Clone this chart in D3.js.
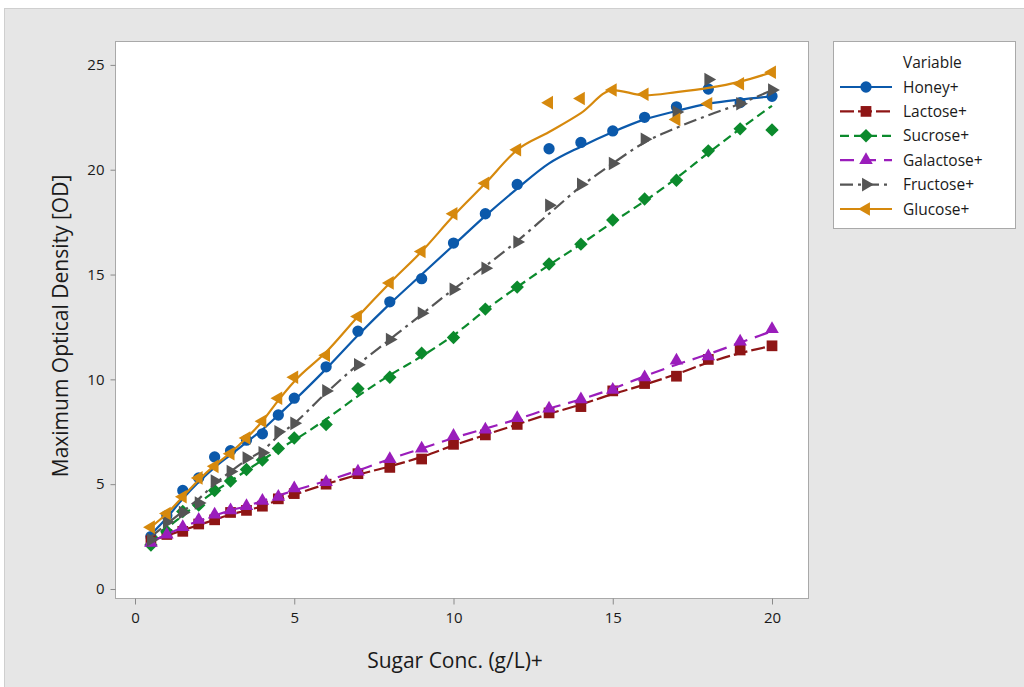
<!DOCTYPE html>
<html>
<head>
<meta charset="utf-8">
<script src="https://cdn.jsdelivr.net/npm/d3@7"></script>
<style>
  html, body { margin: 0; padding: 0; background: #ffffff; }
  svg { display: block; }
  text { font-family: "Open Sans", "Noto Sans", sans-serif; fill: #1a1a1a; }
</style>
</head>
<body>
<svg id="chart" width="1024" height="687"></svg>
<script>
// ---- data ----
const sugarConc = [0.5,1,1.5,2,2.5,3,3.5,4,4.5,5,6,7,8,9,10,11,12,13,14,15,16,17,18,19,20];
const xTicks = [0,5,10,15,20];
const yTicks = [0,5,10,15,20,25];
const seriesNames = ["Honey+","Lactose+","Sucrose+","Galactose+","Fructose+","Glucose+"];

const honey     = [2.5,3.5,4.7,5.3,6.3,6.6,7.1,7.4,8.3,9.1,10.6,12.3,13.7,14.8,16.5,17.9,19.3,21.0,21.3,21.85,22.5,23.0,23.85,23.2,23.5];
const lactose   = [2.3,2.6,2.75,3.1,3.3,3.65,3.75,3.95,4.3,4.55,5.0,5.5,5.8,6.2,6.9,7.35,7.85,8.4,8.7,9.45,9.8,10.15,10.95,11.4,11.6];
const sucrose   = [2.1,2.75,3.7,4.0,4.7,5.15,5.7,6.15,6.7,7.2,7.85,9.55,10.1,11.25,12.0,13.35,14.4,15.5,16.45,17.6,18.6,19.5,20.9,21.95,21.9];
const galactose = [2.2,2.6,2.95,3.3,3.55,3.75,3.95,4.2,4.4,4.8,5.1,5.6,6.2,6.7,7.3,7.6,8.15,8.6,9.05,9.5,10.1,10.9,11.1,11.8,12.4];
const fructose  = [2.35,3.2,3.65,4.1,5.15,5.6,6.25,6.5,7.5,7.9,9.45,10.7,11.9,13.15,14.3,15.3,16.55,18.3,19.3,20.3,21.45,22.75,24.3,23.15,23.8];
const glucose   = [2.95,3.6,4.4,5.3,5.85,6.45,7.2,8.0,9.1,10.1,11.15,13.0,14.6,16.1,17.9,19.35,20.95,23.2,23.4,23.8,23.6,22.4,23.15,24.1,24.65];

// smoothed connect lines (as drawn in the reference)
const honeyFit     = [2.6,3.4,4.3,5.1,5.8,6.4,7.0,7.6,8.3,9.0,10.5,12.1,13.6,15.0,16.4,17.8,19.1,20.3,21.1,21.8,22.4,22.8,23.15,23.35,23.5];
const lactoseFit   = [2.3,2.55,2.8,3.05,3.3,3.55,3.75,3.95,4.25,4.5,5.0,5.45,5.85,6.3,6.85,7.35,7.85,8.35,8.8,9.3,9.75,10.25,10.8,11.25,11.6];
const sucroseFit   = [2.2,2.9,3.5,4.1,4.65,5.15,5.65,6.15,6.65,7.1,8.1,9.2,10.2,11.1,12.1,13.3,14.4,15.45,16.45,17.5,18.5,19.6,20.8,21.95,23.05];
const galactoseFit = [2.25,2.6,2.95,3.25,3.5,3.75,3.95,4.2,4.45,4.7,5.15,5.65,6.2,6.7,7.2,7.65,8.1,8.6,9.05,9.55,10.15,10.7,11.2,11.75,12.3];
const fructoseFit  = [2.5,3.1,3.7,4.3,5.0,5.6,6.15,6.6,7.3,7.9,9.35,10.7,11.9,13.1,14.3,15.4,16.6,17.9,19.2,20.3,21.3,22.0,22.6,23.15,23.8];
const glucoseFit   = [2.95,3.6,4.4,5.2,5.9,6.5,7.2,8.0,9.0,9.9,11.3,13.0,14.6,16.1,17.8,19.35,20.95,21.8,22.7,23.8,23.55,23.7,23.9,24.2,24.65];

const seriesValues = [honey, lactose, sucrose, galactose, fructose, glucose];
const seriesFits = [honeyFit, lactoseFit, sucroseFit, galactoseFit, fructoseFit, glucoseFit];

// ---- styles ----
const colors = ["#0b59ab","#8e1515","#0b8a2c","#9a1dbb","#555555","#d6890d"];
const dashes = [null, "14,4", "9,5", "14,8", "13,5,3,5", null];
const shapes = ["circle","square","diamond","up","right","left"];

const svg = d3.select("#chart");
const W = 1024, H = 687;

// background panel
svg.append("rect").attr("x",0).attr("y",0).attr("width",W).attr("height",H).attr("fill","#ffffff");
svg.append("rect").attr("x",4.5).attr("y",8.5).attr("width",W).attr("height",H).attr("fill","#e6e6e6").attr("stroke","#cfcfcf");

const plot = {left:115, top:41, right:808, bottom:598};
svg.append("rect").attr("x",plot.left+0.5).attr("y",plot.top+0.5)
  .attr("width",plot.right-plot.left).attr("height",plot.bottom-plot.top)
  .attr("fill","#ffffff").attr("stroke","#a9a9a9");

const x = d3.scaleLinear().domain([-0.628, 21.13]).range([plot.left, plot.right]);
const y = d3.scaleLinear().domain([-0.43, 26.14]).range([plot.bottom, plot.top]);

// axes
const xAxis = svg.append("g").attr("transform",`translate(0,${plot.bottom+0.5})`)
  .call(d3.axisBottom(x).tickValues(xTicks).tickSize(6).tickPadding(8));
const yAxis = svg.append("g").attr("transform",`translate(${plot.left+0.5},0)`)
  .call(d3.axisLeft(y).tickValues(yTicks).tickSize(5).tickPadding(6));
[xAxis,yAxis].forEach(a => {
  a.select(".domain").remove();
  a.selectAll(".tick line").attr("stroke","#8a8a8a");
  a.selectAll(".tick text").attr("font-size",15).attr("fill","#1a1a1a")
    .attr("font-family","'Open Sans', sans-serif");
});

// axis titles
svg.append("text").attr("x",455).attr("y",668).attr("text-anchor","middle")
  .attr("font-size",21).text("Sugar Conc. (g/L)+");
svg.append("text").attr("transform","translate(68,326) rotate(-90)").attr("text-anchor","middle")
  .attr("font-size",21).text("Maximum Optical Density [OD]");

// marker generator
function markerPath(shape){
  if (shape==="circle") return d3.symbol(d3.symbolCircle, 100)();
  if (shape==="square") return d3.symbol(d3.symbolSquare, 115)();
  if (shape==="diamond") return d3.symbol(d3.symbolSquare, 90)();
  return d3.symbol(d3.symbolTriangle, 80)();
}
function markerRot(shape){
  if (shape==="diamond") return 45;
  if (shape==="right") return 90;
  if (shape==="left") return -90;
  return 0;
}

svg.append("clipPath").attr("id","pc").append("rect")
  .attr("x",plot.left).attr("y",plot.top).attr("width",plot.right-plot.left).attr("height",plot.bottom-plot.top);

const line = d3.line().x((d,i)=>x(sugarConc[i])).y(d=>y(d)).curve(d3.curveMonotoneX);
const g = svg.append("g").attr("clip-path","url(#pc)");

seriesNames.forEach((name, s) => {
  g.append("path").datum(seriesFits[s]).attr("d", line)
    .attr("fill","none").attr("stroke",colors[s]).attr("stroke-width",2.2)
    .attr("stroke-dasharray", dashes[s]);
  g.selectAll(null).data(seriesValues[s]).enter().append("path")
    .attr("d", markerPath(shapes[s]))
    .attr("transform",(d,i)=>`translate(${x(sugarConc[i])},${y(d)}) rotate(${markerRot(shapes[s])})`)
    .attr("fill",colors[s]);
});

// legend
const lg = svg.append("g");
lg.append("rect").attr("x",833.5).attr("y",41.5).attr("width",182).attr("height",187)
  .attr("fill","#ffffff").attr("stroke","#a9a9a9");
lg.append("text").attr("x",903).attr("y",68).attr("font-size",15.5).text("Variable");
seriesNames.forEach((name, s) => {
  const yy = 87 + s*24.4;
  lg.append("line").attr("x1",840).attr("x2",892).attr("y1",yy).attr("y2",yy)
    .attr("stroke",colors[s]).attr("stroke-width",2.2).attr("stroke-dasharray",dashes[s]);
  lg.append("path").attr("d",markerPath(shapes[s]))
    .attr("transform",`translate(866,${yy}) rotate(${markerRot(shapes[s])})`).attr("fill",colors[s]);
  lg.append("text").attr("x",903).attr("y",yy+5.5).attr("font-size",15.5).text(name);
});
</script>
</body>
</html>
